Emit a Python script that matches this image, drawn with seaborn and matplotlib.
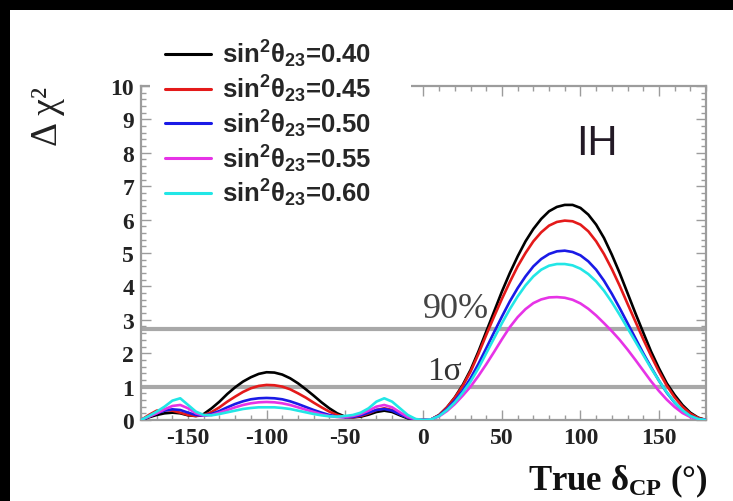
import matplotlib
matplotlib.use("Agg")
import matplotlib.pyplot as plt
import numpy as np
import pandas as pd
import seaborn as sns
from matplotlib.ticker import MultipleLocator
from matplotlib.patches import Rectangle

# True delta_CP grid (degrees)
delta_cp = list(range(-180, 185, 5))

# Delta chi^2 sensitivity curves, one per sin^2(theta_23) value
chi2_040 = [0.00, 0.08, 0.15, 0.20, 0.22, 0.20, 0.14, 0.12, 0.18,
            0.35, 0.55, 0.78, 0.98, 1.15, 1.28, 1.38, 1.43, 1.42,
            1.36, 1.25, 1.10, 0.92, 0.73, 0.53, 0.35, 0.20, 0.10,
            0.08, 0.10, 0.16, 0.24, 0.28, 0.24, 0.14, 0.05, 0.01,
            0.00, 0.02, 0.15, 0.38, 0.68, 1.05, 1.50, 2.05, 2.65,
            3.25, 3.85, 4.40, 4.90, 5.35, 5.72, 6.02, 6.25, 6.38,
            6.44, 6.44, 6.35, 6.15, 5.85, 5.45, 4.95, 4.40, 3.80,
            3.20, 2.62, 2.05, 1.55, 1.10, 0.75, 0.45, 0.22, 0.07,
            0.00]
chi2_045 = [0.00, 0.15, 0.28, 0.30, 0.28, 0.22, 0.15, 0.12, 0.14,
            0.24, 0.38, 0.55, 0.70, 0.84, 0.95, 1.02, 1.05, 1.04,
            1.00, 0.92, 0.80, 0.67, 0.52, 0.38, 0.25, 0.15, 0.09,
            0.08, 0.12, 0.20, 0.30, 0.35, 0.30, 0.18, 0.07, 0.01,
            0.00, 0.02, 0.15, 0.38, 0.67, 1.02, 1.45, 1.98, 2.55,
            3.10, 3.63, 4.13, 4.60, 5.00, 5.35, 5.62, 5.82, 5.93,
            5.97, 5.95, 5.85, 5.65, 5.35, 4.97, 4.52, 4.02, 3.48,
            2.95, 2.42, 1.92, 1.45, 1.03, 0.68, 0.40, 0.19, 0.06,
            0.00]
chi2_050 = [0.00, 0.10, 0.20, 0.28, 0.32, 0.30, 0.22, 0.15, 0.13,
            0.18, 0.27, 0.38, 0.48, 0.56, 0.62, 0.65, 0.66, 0.65,
            0.62, 0.56, 0.48, 0.39, 0.30, 0.22, 0.15, 0.10, 0.08,
            0.09, 0.14, 0.22, 0.30, 0.33, 0.28, 0.17, 0.07, 0.01,
            0.00, 0.02, 0.13, 0.33, 0.58, 0.88, 1.25, 1.68, 2.15,
            2.63, 3.10, 3.55, 3.95, 4.30, 4.60, 4.82, 4.97, 5.05,
            5.07, 5.03, 4.93, 4.75, 4.50, 4.17, 3.78, 3.35, 2.90,
            2.45, 2.00, 1.58, 1.18, 0.82, 0.52, 0.28, 0.12, 0.03,
            0.00]
chi2_055 = [0.00, 0.10, 0.20, 0.32, 0.42, 0.45, 0.35, 0.20, 0.13,
            0.15, 0.22, 0.30, 0.38, 0.45, 0.50, 0.53, 0.54, 0.53,
            0.50, 0.45, 0.38, 0.31, 0.24, 0.17, 0.12, 0.09, 0.09,
            0.12, 0.18, 0.28, 0.40, 0.45, 0.38, 0.23, 0.09, 0.02,
            0.00, 0.02, 0.11, 0.27, 0.48, 0.73, 1.00, 1.32, 1.67,
            2.04, 2.42, 2.78, 3.08, 3.32, 3.50, 3.61, 3.67, 3.68,
            3.66, 3.60, 3.49, 3.33, 3.13, 2.90, 2.66, 2.40, 2.11,
            1.80, 1.48, 1.16, 0.87, 0.61, 0.39, 0.21, 0.09, 0.02,
            0.00]
chi2_060 = [0.00, 0.12, 0.25, 0.40, 0.58, 0.65, 0.45, 0.25, 0.15,
            0.14, 0.18, 0.23, 0.28, 0.33, 0.36, 0.38, 0.38, 0.38,
            0.36, 0.33, 0.28, 0.23, 0.18, 0.14, 0.11, 0.10, 0.12,
            0.15, 0.22, 0.35, 0.55, 0.65, 0.55, 0.35, 0.15, 0.03,
            0.00, 0.02, 0.12, 0.30, 0.53, 0.82, 1.15, 1.55, 2.00,
            2.45, 2.90, 3.32, 3.70, 4.03, 4.30, 4.50, 4.62, 4.67,
            4.67, 4.63, 4.53, 4.37, 4.15, 3.87, 3.53, 3.15, 2.75,
            2.35, 1.95, 1.55, 1.18, 0.83, 0.53, 0.29, 0.12, 0.03,
            0.00]

sin2_labels = ["0.40", "0.45", "0.50", "0.55", "0.60"]
line_colors = ["#000000", "#e41a1a", "#1a1ae6", "#e633e6", "#22e6e6"]
cl_levels = [1.0, 2.71]
cl_names = ["1σ", "90%"]

series = [chi2_040, chi2_045, chi2_050, chi2_055, chi2_060]
labels = [r"$\mathsf{sin^{2}\theta_{23}}$=" + s for s in sin2_labels]
df = pd.concat(
    [pd.DataFrame({"delta": delta_cp, "chi2": vals, "label": lab})
     for vals, lab in zip(series, labels)],
    ignore_index=True,
)

sns.set_theme(style="white")
plt.rcParams.update({
    "mathtext.fontset": "custom",
    "mathtext.rm": "Liberation Serif:bold",
    "mathtext.it": "Liberation Serif:bold",
    "mathtext.bf": "Liberation Serif:bold",
    "mathtext.sf": "Liberation Sans:bold",
})
plt.rcParams["font.family"] = ["Liberation Serif", "DejaVu Serif"]

W, H = 733, 502
fig = plt.figure(figsize=(W / 100, H / 100), dpi=100, facecolor="black")
# white canvas inside the dark frame
fig.patches.append(Rectangle((10 / W, 0), 1, 1 - 11 / H, transform=fig.transFigure,
                             facecolor="white", edgecolor="none", zorder=-10))

left, right, top, bottom = 141, 706, 87, 421
ax = fig.add_axes([left / W, (H - bottom) / H, (right - left) / W, (bottom - top) / H])
ax.set_facecolor("white")

grey = "#9c9c9c"
for lvl in cl_levels:
    ax.axhline(lvl, color="#a8a8a8", lw=3.0, zorder=1)

sns.lineplot(data=df, x="delta", y="chi2", hue="label", palette=line_colors,
             estimator=None, sort=False, linewidth=1.9, ax=ax, legend=False, zorder=3)

ax.set_xlim(-180, 180)
ax.set_ylim(0, 10)
ax.set_xlabel("")
ax.set_ylabel("")

for sp in ax.spines.values():
    sp.set_color(grey)
    sp.set_linewidth(1.6)
    sp.set_visible(True)

ax.xaxis.set_major_locator(MultipleLocator(50))
ax.xaxis.set_minor_locator(MultipleLocator(10))
ax.yaxis.set_major_locator(MultipleLocator(1))
ax.yaxis.set_minor_locator(MultipleLocator(0.2))
ax.tick_params(which="both", direction="in", top=True, right=True,
               bottom=True, left=True, color=grey, width=1.0)
ax.tick_params(which="major", length=7)
ax.tick_params(which="minor", length=3.5)
ax.tick_params(axis="both", which="major", pad=5, labelsize=17,
               labelcolor="#222222")
ax.set_xticklabels([f"{int(t)}" for t in ax.get_xticks()])
for lab in ax.get_xticklabels() + ax.get_yticklabels():
    lab.set_fontweight("bold")
    lab.set_family("Liberation Serif")

# confidence level annotations
ax.text(2.5, 1.23, cl_names[0], fontsize=24, color="#333333",
        family="Liberation Serif", ha="left", va="baseline")
ax.text(-0.5, 3.08, cl_names[1], fontsize=26, color="#444444",
        family="Liberation Serif", ha="left", va="baseline")

ax.text(97, 7.96, "IH", fontsize=30, color="#231a26",
        family="Liberation Sans", ha="left", va="baseline")

# axis titles
fig.text(48 / W, 1 - 87 / H, "Δ χ²", rotation=90, ha="center", va="top",
         fontsize=27, family="Liberation Serif", color="#222222")
fig.text(708 / W, 1 - 490 / H, r"True $\delta_{\rm CP}$ (°)", ha="right",
         va="baseline", fontsize=25, family="Liberation Serif",
         fontweight="bold", color="#111111")

# blank the frame behind the legend
ax.add_patch(Rectangle((150 / W, 1 - 100 / H), 261 / W, 45 / H,
                       transform=fig.transFigure, facecolor="white",
                       edgecolor="none", clip_on=False, zorder=4))

handles = [plt.Line2D([], [], color=c, lw=2.2) for c in line_colors]
leg = ax.legend(handles, labels, loc="upper left",
                bbox_to_anchor=(165 / W, 1 - 39 / H),
                bbox_transform=fig.transFigure, frameon=False,
                borderpad=0, borderaxespad=0, handlelength=1.8,
                handletextpad=0.4, labelspacing=0.13,
                prop={"family": "Liberation Sans", "weight": "bold", "size": 18.5})
leg.set_zorder(6)

fig.savefig("out.png", dpi=100, facecolor=fig.get_facecolor())
